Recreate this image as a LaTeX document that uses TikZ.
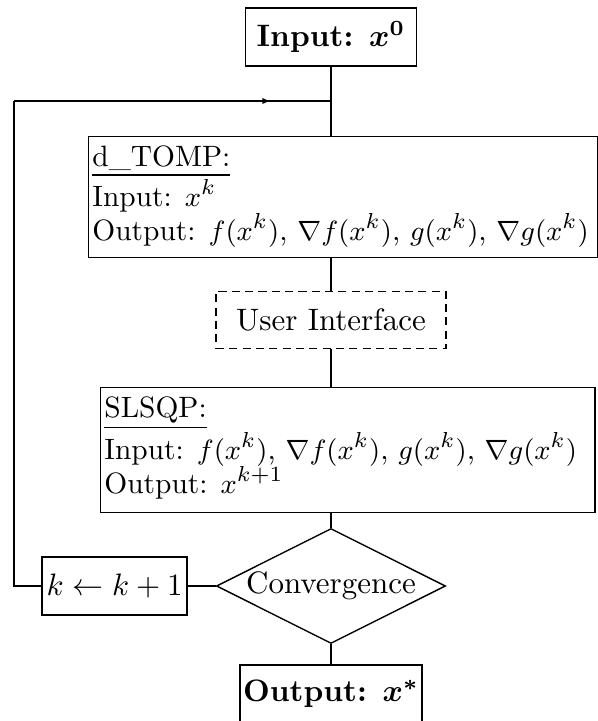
\documentclass[tikz,border=0pt]{standalone}
\usepackage{amsmath,amssymb}
\usetikzlibrary{positioning,arrows.meta,calc,shapes.geometric,decorations.markings}

\begin{document}
\begin{tikzpicture}[
  x=0.3226pt, y=0.3226pt,
  line width=0.45pt,
  node distance=9pt,
  stbox/.style={draw, rectangle, inner sep=1pt, minimum width=55.2pt, minimum height=18.7pt},
  stframe/.style={draw, rectangle, inner sep=0pt, anchor=north west},
  sttext/.style={anchor=north west, align=left, inner sep=0pt, font=\fontsize{9.5}{11}\selectfont},
  stdashed/.style={draw, dash pattern=on 2.6pt off 1.7pt, minimum width=74.2pt, minimum height=18.4pt},
  stdecision/.style={draw, shape=diamond, aspect=2, inner sep=0pt, minimum width=73.9pt, minimum height=37.1pt},
  stloop/.style={postaction={decorate}, decoration={markings, mark=at position 0.81 with {\arrow{Latex[length=2.7pt,width=2pt]}}}}
]
\useasboundingbox (0,0) rectangle (598,721);

% start
\node[stbox, font=\bfseries] (input) at (331,684) {Input: $\boldsymbol{x^0}$};
\coordinate (join) at (331,620);
\coordinate (back) at (14,620);

% analysis code
\node[stframe, minimum width=164.2pt, minimum height=39pt] (tomp) at (88,585) {};
\node[sttext] (tomptxt) at ([xshift=1.2pt,yshift=-3pt]tomp.north west)
  {\underline{d\_TOMP:}\\ Input: $x^k$\\ Output: $f(x^k)$, $\nabla f(x^k)$, $g(x^k)$, $\nabla g(x^k)$};

\node[stdashed] (ui) at (331,401) {User Interface};

% optimizer
\node[stframe, minimum width=159.4pt, minimum height=40.3pt] (slsqp) at (100,334) {};
\node[sttext] (slsqptxt) at ([xshift=1.2pt,yshift=-3pt]slsqp.north west)
  {\underline{SLSQP:}\\ Input: $f(x^k)$, $\nabla f(x^k)$, $g(x^k)$, $\nabla g(x^k)$\\ Output: $x^{k+1}$};

\node[stdecision] (conv) at (331,135) {Convergence};
\node[stbox, minimum width=46.8pt, left=9pt of conv] (kbox) {$k \leftarrow k+1$};
\node[stbox, font=\bfseries, below=6.5pt of conv] (output) {Output: $\boldsymbol{x^*}$};

\draw (input.south) -- (input.south |- tomp.north);
\draw (kbox.west) -| (back);
\draw[stloop] (back) -- (join);
\draw (ui.north |- tomp.south) -- (ui.north);
\draw (ui.south) -- (ui.south |- slsqp.north);
\draw (conv.north |- slsqp.south) -- (conv.north);
\draw (kbox.east) -- (conv.west);
\draw (conv.south) -- (output.north);
\end{tikzpicture}
\end{document}
